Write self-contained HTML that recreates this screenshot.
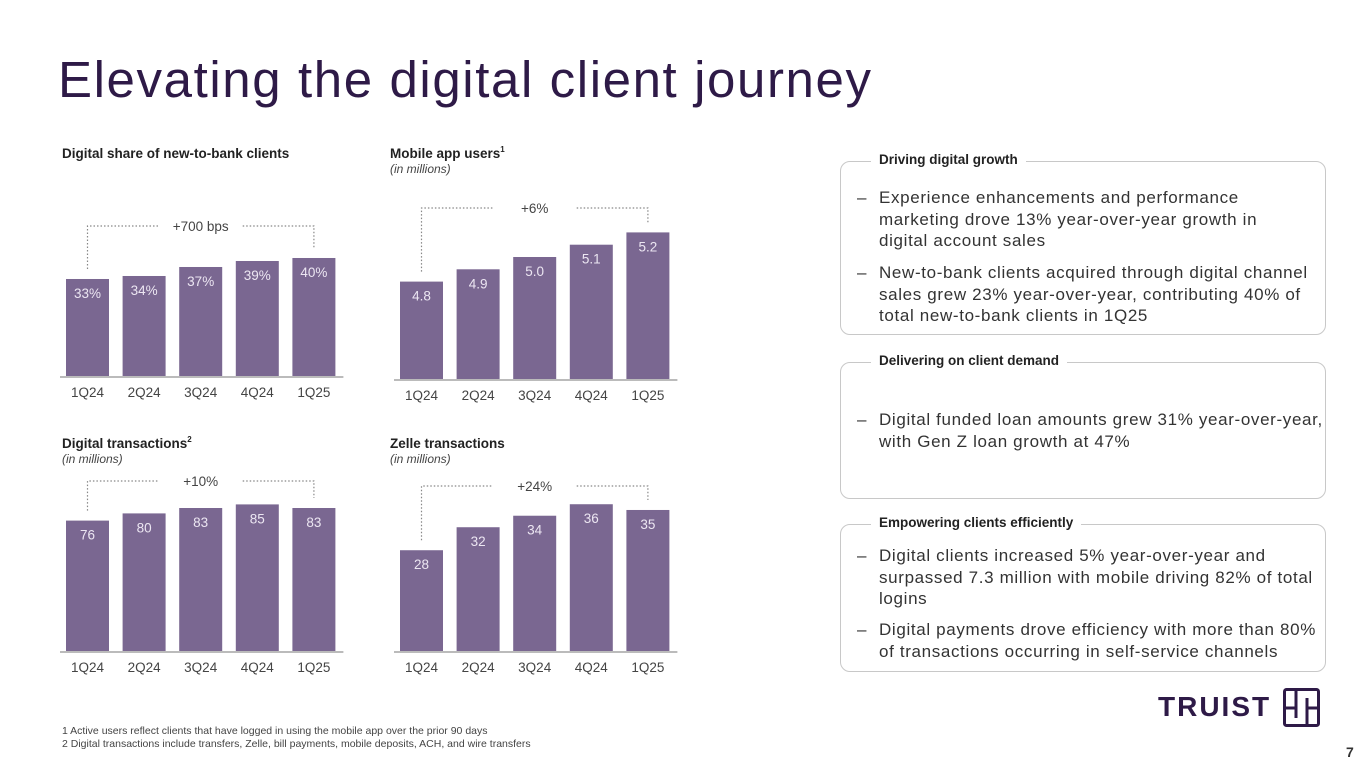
<!DOCTYPE html>
<html><head><meta charset="utf-8"><style>
body{margin:0;width:1365px;height:768px;background:#fff;font-family:"Liberation Sans",sans-serif;overflow:hidden;position:relative;color:#2e1a47}
.abs{position:absolute}
h1{position:absolute;left:58px;top:50px;margin:0;font-weight:normal;font-size:51px;color:#2e1a47;letter-spacing:1.6px}
.box{position:absolute;left:840px;width:486px;border:1.5px solid #c8c8c8;border-radius:10px;box-sizing:border-box}
.bh{position:absolute;left:30px;top:-10px;background:#fff;padding:0 8px;font-weight:bold;font-size:13.5px;color:#222}
.li{position:absolute;left:16px;right:0;font-size:17px;letter-spacing:0.65px;line-height:21.5px;color:#333;padding-left:22px;white-space:nowrap}
.li:before{content:"–";position:absolute;left:0}
.fn{position:absolute;left:62px;font-size:10.5px;color:#444}
</style></head><body>
<h1>Elevating the digital client journey</h1>
<svg class="abs" style="left:0;top:0" width="820" height="700">
<g font-family="Liberation Sans" fill="#222">
<text x="62" y="158" font-size="13.5" font-weight="bold">Digital share of new-to-bank clients</text>
<text x="390" y="158" font-size="13.5" font-weight="bold">Mobile app users<tspan font-size="8" dy="-6">1</tspan></text>
<text x="390" y="173" font-size="12" font-style="italic" fill="#444">(in millions)</text>
<text x="62" y="448" font-size="13.5" font-weight="bold">Digital transactions<tspan font-size="8" dy="-6">2</tspan></text>
<text x="62" y="463" font-size="12" font-style="italic" fill="#444">(in millions)</text>
<text x="390" y="448" font-size="13.5" font-weight="bold">Zelle transactions</text>
<text x="390" y="463" font-size="12" font-style="italic" fill="#444">(in millions)</text>
</g>
<g id="plots"></g>
</svg>
<div class="box" style="top:161px;height:174px">
<div class="bh">Driving digital growth</div>
<div class="li" style="top:25px">Experience enhancements and performance<br>marketing drove 13% year-over-year growth in<br>digital account sales</div>
<div class="li" style="top:100px">New-to-bank clients acquired through digital channel<br>sales grew 23% year-over-year, contributing 40% of<br>total new-to-bank clients in 1Q25</div>
</div>
<div class="box" style="top:362px;height:137px">
<div class="bh">Delivering on client demand</div>
<div class="li" style="top:46px">Digital funded loan amounts grew 31% year-over-year,<br>with Gen Z loan growth at 47%</div>
</div>
<div class="box" style="top:524px;height:148px">
<div class="bh">Empowering clients efficiently</div>
<div class="li" style="top:20px">Digital clients increased 5% year-over-year and<br>surpassed 7.3 million with mobile driving 82% of total<br>logins</div>
<div class="li" style="top:94px">Digital payments drove efficiency with more than 80%<br>of transactions occurring in self-service channels</div>
</div>
<div class="abs" style="left:1158px;top:691px;font-size:28px;font-weight:bold;letter-spacing:2px;color:#2e1a47">TRUIST</div>
<svg class="abs" style="left:1283px;top:688px" width="38" height="40"><rect x="1.5" y="1.5" width="34" height="36" rx="2" fill="none" stroke="#2e1a47" stroke-width="3"/><path d="M13 2V30M24 10V38M2 20H13M24 20H36" stroke="#2e1a47" stroke-width="3" fill="none"/></svg>
<div class="fn" style="top:725px">1 Active users reflect clients that have logged in using the mobile app over the prior 90 days</div>
<div class="fn" style="top:738px">2 Digital transactions include transfers, Zelle, bill payments, mobile deposits, ACH, and wire transfers</div>
<div class="abs" style="left:1346px;top:744px;font-size:14px;font-weight:bold;color:#333">7</div>
<script>
const categories=["1Q24","2Q24","3Q24","4Q24","1Q25"];
const shareValues=[33,34,37,39,40];
const shareLabels=["33%","34%","37%","39%","40%"];
const mobileValues=[4.8,4.9,5.0,5.1,5.2];
const mobileLabels=["4.8","4.9","5.0","5.1","5.2"];
const txnValues=[76,80,83,85,83];
const txnLabels=["76","80","83","85","83"];
const zelleValues=[28,32,34,36,35];
const zelleLabels=["28","32","34","36","35"];
const changeLabels=["+700 bps","+6%","+10%","+24%"];
const NS="http://www.w3.org/2000/svg";
const g=document.getElementById('plots');
function mk(t,a,p){const e=document.createElementNS(NS,t);for(const k in a)e.setAttribute(k,a[k]);(p||g).appendChild(e);return e;}
function chart(name,vals,labels,x0,base,v0,k,bracketY,change){
  const grp=mk('g',{});
  
  
  const pitch=56.6,bw=43;
  const xc=i=>x0+i*pitch+bw/2;
  const y=v=>base-(v-v0)*k;
  vals.forEach((v,i)=>{
    const r=mk('rect',{x:xc(i)-bw/2,y:y(v),width:bw,height:base-y(v),fill:'#7a6791'},grp);
    
    
    const t=mk('text',{x:xc(i),y:y(v)+19,'text-anchor':'middle','font-size':'13.5',fill:'#ece6f2','font-family':'Liberation Sans'},grp);
    t.textContent=labels[i];
    
    
    const c=mk('text',{x:xc(i),y:base+20,'text-anchor':'middle','font-size':'13.5',fill:'#444','font-family':'Liberation Sans'},grp);
    c.textContent=categories[i];
    
    
  });
  const ax=mk('line',{x1:x0-6,x2:x0+4*pitch+bw+8,y1:base,y2:base,stroke:'#bbb','stroke-width':2},grp);
  
  
  const xa=xc(0),xb=xc(4),mid=(xa+xb)/2;
  const d='M'+xa+' '+(y(vals[0])-10)+'V'+bracketY+'H'+(mid-42)+'M'+(mid+42)+' '+bracketY+'H'+xb+'V'+(y(vals[4])-10);
  const br=mk('path',{d:d,fill:'none',stroke:'#888','stroke-width':1.2,'stroke-dasharray':'1.5 2'},grp);
  
  
  const ct=mk('text',{x:mid,y:bracketY+5,'text-anchor':'middle','font-size':'13.5',fill:'#444','font-family':'Liberation Sans'},grp);
  ct.textContent=change;
  
  
}
chart('digital-share-chart',shareValues,shareLabels,66,377,0.33,3,226,changeLabels[0]);
chart('mobile-users-chart',mobileValues,mobileLabels,400,380,4.0,123,208,changeLabels[1]);
chart('digital-transactions-chart',txnValues,txnLabels,66,652,3,1.8,481,changeLabels[2]);
chart('zelle-transactions-chart',zelleValues,zelleLabels,400,652,10.3,5.75,486,changeLabels[3]);
</script>
</body></html>
